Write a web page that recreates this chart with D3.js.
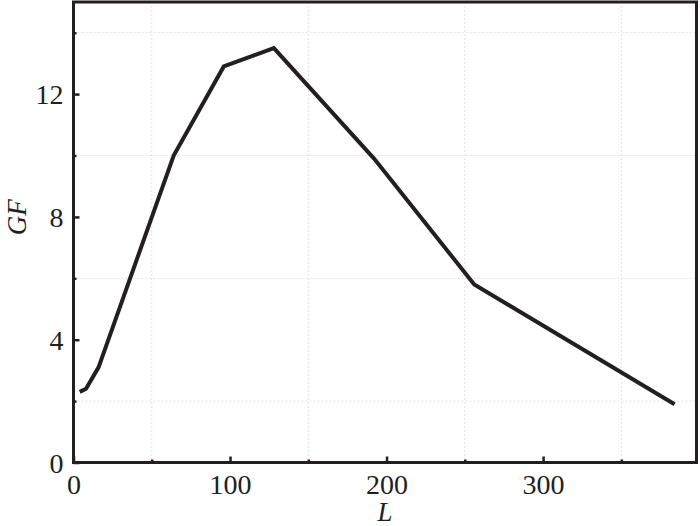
<!DOCTYPE html>
<html><head><meta charset="utf-8">
<script src="https://cdn.jsdelivr.net/npm/d3@7"></script>
<style>body{margin:0;background:#fff}svg{display:block}</style>
</head><body><svg id="c" width="700" height="526"></svg>
<script>
const lengths = [4, 8, 16, 64, 96, 128, 192, 256, 384];
const gfValues = [2.3, 2.4, 3.1, 10.0, 12.9, 13.5, 9.9, 5.8, 1.9];
const xMajorTicks = [0, 100, 200, 300];
const xMinorTicks = [50, 150, 250, 350];
const yMajorTicks = [0, 4, 8, 12];
const yMinorTicks = [2, 6, 10, 14];
const xTitle = "L";
const yTitle = "GF";

const W = 700, H = 526;
const m = {left: 73.5, right: 3.5, top: 2, bottom: 63.5};
const svg = d3.select("#c");
const x = d3.scaleLinear().domain([0, 398]).range([m.left, W - m.right]);
const y = d3.scaleLinear().domain([0, 15]).range([H - m.bottom, m.top]);
const ink = "#231f20";
const font = "'Liberation Serif','Times New Roman',serif";

// grid (at minor ticks)
const g = svg.append("g");
g.selectAll(".gx").data(xMinorTicks).join("line")
  .attr("x1", d => x(d)).attr("x2", d => x(d))
  .attr("y1", y(15)).attr("y2", y(0))
  .attr("stroke", "#e2e2e2").attr("stroke-width", 1).attr("stroke-dasharray", "2,2");
g.selectAll(".gy").data(yMinorTicks).join("line")
  .attr("y1", d => y(d)).attr("y2", d => y(d))
  .attr("x1", x(0)).attr("x2", x(398))
  .attr("stroke", "#e2e2e2").attr("stroke-width", 1).attr("stroke-dasharray", "2,2");

// axes with inward ticks
const xAxis = svg.append("g").attr("transform", `translate(0,${y(0)})`)
  .call(d3.axisBottom(x).tickValues(xMajorTicks).tickSize(-6).tickFormat(d3.format("d")));
const xMinor = svg.append("g").attr("transform", `translate(0,${y(0)})`)
  .call(d3.axisBottom(x).tickValues(xMinorTicks).tickSize(-3).tickFormat(""));
const yAxis = svg.append("g").attr("transform", `translate(${x(0)},0)`)
  .call(d3.axisLeft(y).tickValues(yMajorTicks).tickSize(-6).tickFormat(d3.format("d")));
const yMinor = svg.append("g").attr("transform", `translate(${x(0)},0)`)
  .call(d3.axisLeft(y).tickValues(yMinorTicks).tickSize(-3).tickFormat(""));

[xAxis, xMinor, yAxis, yMinor].forEach(a => {
  a.select(".domain").remove();
  a.selectAll(".tick line").attr("stroke", ink).attr("stroke-width", 2.5);
  a.selectAll(".tick text").attr("fill", ink).attr("font-family", font).attr("font-size", 28);
});
xAxis.selectAll(".tick text").attr("dy", null).attr("y", 31);
yAxis.selectAll(".tick text").attr("x", -10).attr("dy", "0.34em");

// frame
svg.append("rect").attr("x", x(0)).attr("y", y(15))
  .attr("width", x(398) - x(0)).attr("height", y(0) - y(15))
  .attr("fill", "none").attr("stroke", ink).attr("stroke-width", 3);

// line
const data = lengths.map((l, i) => ({l, v: gfValues[i]}));
svg.append("path").datum(data)
  .attr("d", d3.line().x(d => x(d.l)).y(d => y(d.v)))
  .attr("fill", "none").attr("stroke", ink).attr("stroke-width", 4)
  .attr("stroke-linejoin", "miter");

// titles
svg.append("text").attr("x", (x(0) + x(398)) / 2).attr("y", 521)
  .attr("text-anchor", "middle").attr("font-family", font).attr("font-style", "italic")
  .attr("font-size", 27).attr("fill", ink).text(xTitle);
svg.append("text").attr("transform", `translate(26,${(y(0) + y(15)) / 2 - 15}) rotate(-90)`)
  .attr("text-anchor", "middle").attr("font-family", font).attr("font-style", "italic")
  .attr("font-size", 27).attr("fill", ink).text(yTitle);
</script></body></html>
